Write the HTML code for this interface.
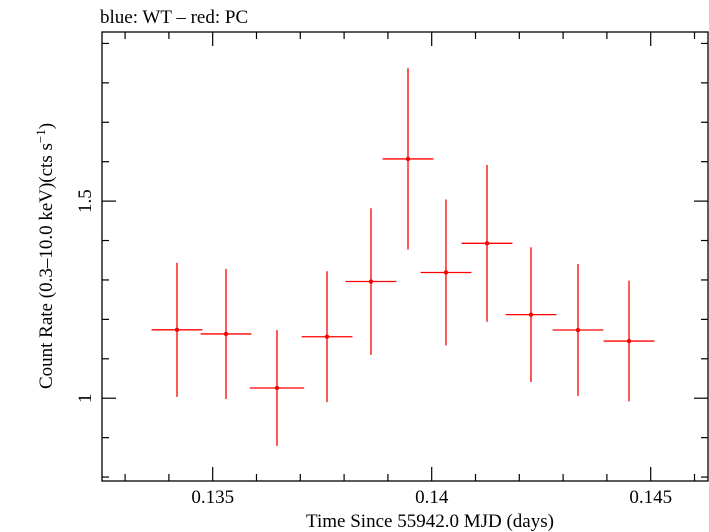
<!DOCTYPE html>
<html><head><meta charset="utf-8"><style>
body{margin:0;background:#fff;}
svg{display:block;font-family:"Liberation Serif",serif;}
</style></head><body>
<svg id="chart" width="709" height="532" viewBox="0 0 709 532" xmlns="http://www.w3.org/2000/svg">
<text x="100" y="23" font-size="19">blue: WT – red: PC</text>
<rect x="102" y="32" width="606" height="449" fill="none" stroke="#000" stroke-width="1.3"/>
<g id="ticks"></g>
<g id="marks"></g>
<text x="430" y="527" font-size="19" text-anchor="middle">Time Since 55942.0 MJD (days)</text>
<text transform="translate(52,256) rotate(-90)" font-size="19" text-anchor="middle">Count Rate (0.3–10.0 keV)(cts s<tspan dy="-7" font-size="13">−1</tspan><tspan dy="7">)</tspan></text>
</svg>
<script>
const times=[0.134185,0.135304,0.136468,0.137610,0.138614,0.139459,0.140326,0.141263,0.142267,0.143340,0.144505];
const rates=[1.1735,1.163,1.026,1.156,1.296,1.607,1.319,1.393,1.212,1.173,1.145];
const rateErr=[0.17,0.165,0.147,0.166,0.186,0.23,0.185,0.199,0.171,0.167,0.153];
const timeErr=[0.00058,0.00058,0.00062,0.00058,0.00058,0.00058,0.00058,0.00058,0.00058,0.00058,0.00058];
const xTickLabels=["0.135","0.14","0.145"];
const yTickLabels=["1","1.5"];
const X0=0.132473,X1=0.146308,Y0=0.79,Y1=1.929;
const L=102,R=708,T=32,B=481;
const xs=v=>L+(v-X0)/(X1-X0)*(R-L);
const ys=v=>B-(v-Y0)/(Y1-Y0)*(B-T);
const NS="http://www.w3.org/2000/svg";
function mk(tag,attrs,parent){const e=document.createElementNS(NS,tag);for(const k in attrs)e.setAttribute(k,attrs[k]);parent.appendChild(e);return e;}
const tk=document.getElementById('ticks');
for(let i=133;i<=146;i++){const v=i/1000;const x=xs(v);const major=i%5===0;const len=major?14:7;
 const a=mk('line',{x1:x,x2:x,y1:B,y2:B-len,stroke:'#000','stroke-width':1.2},tk);
 
 
 const b=mk('line',{x1:x,x2:x,y1:T,y2:T+len,stroke:'#000','stroke-width':1.2},tk);
 
 }
xTickLabels.forEach(s=>{const t=mk('text',{x:xs(parseFloat(s)),y:503,'font-size':19,'text-anchor':'middle'},tk);t.textContent=s;
 
 });
for(let i=8;i<=19;i++){const v=i/10;const y=ys(v);const major=i%5===0;const len=major?14:7;
 const a=mk('line',{x1:L,x2:L+len,y1:y,y2:y,stroke:'#000','stroke-width':1.2},tk);
 
 
 const b=mk('line',{x1:R,x2:R-len,y1:y,y2:y,stroke:'#000','stroke-width':1.2},tk);
 
 }
yTickLabels.forEach(s=>{const y=ys(parseFloat(s));const t=mk('text',{transform:`translate(91,${y}) rotate(-90)`,'font-size':19,'text-anchor':'middle'},tk);t.textContent=s;
 
 });
const mg=document.getElementById('marks');
times.forEach((t,i)=>{const g=mk('g',{},mg);
 
 
 mk('line',{x1:xs(t-timeErr[i]),x2:xs(t+timeErr[i]),y1:ys(rates[i]),y2:ys(rates[i]),stroke:'#f00','stroke-width':1.3},g);
 mk('line',{x1:xs(t),x2:xs(t),y1:ys(rates[i]-rateErr[i]),y2:ys(rates[i]+rateErr[i]),stroke:'#f00','stroke-width':1.3},g);
 mk('circle',{cx:xs(t),cy:ys(rates[i]),r:2.2,fill:'#f00'},g);});
</script>
</body></html>
